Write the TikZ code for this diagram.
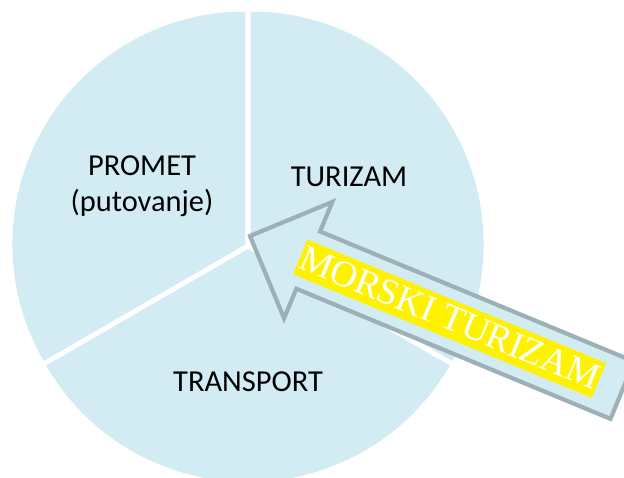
\documentclass[tikz,border=0pt]{standalone}
\usepackage{fontspec}
\setmainfont{Carlito}
\newfontfamily\timesfont{Liberation Serif}
\definecolor{pieblue}{RGB}{211,236,243}
\definecolor{arrowgray}{RGB}{157,176,182}
\begin{document}
\begin{tikzpicture}[x=0.03cm,y=0.03cm,
    piecaption/.style={font=\fontsize{26}{31}\selectfont,align=center,inner sep=0pt},
    arrowbody/.style={fill=pieblue,draw=arrowgray,line width=3.6pt},
    highlight/.style={fill=yellow,text=white,inner xsep=1pt,inner ysep=0pt,
      font=\timesfont\fontsize{31.5}{37}\selectfont,text height=25.5pt,text depth=6.5pt}]
  \useasboundingbox (0,0) rectangle (624,477);
  \clip (0,0) rectangle (624,477);
  % slices, pulled a little apart
  \fill[pieblue] (250.6,232.5) -- ++(90:233) arc (90:-30:233) -- cycle;
  \fill[pieblue] (245.4,232.5) -- ++(90:233) arc (90:210:233) -- cycle;
  \fill[pieblue] (248,228) -- ++(210:233) arc (210:330:233) -- cycle;
  \node[piecaption] (promet) at (142,291) {PROMET\\(putovanje)};
  \node[piecaption] (turizam) at (349,300) {TURIZAM};
  \node[piecaption] (transport) at (248,95) {TRANSPORT};
  \begin{scope}[shift={(250,241)},rotate=-22.5]
    \draw[arrowbody] (0,0) -- (63,63) -- (63,31) -- (403,31) -- (403,-31)
      -- (63,-31) -- (63,-63) -- cycle;
    \node[highlight,rotate=-22.5] (morski) at (216,0) {MORSKI TURIZAM};
  \end{scope}
\end{tikzpicture}
\end{document}
